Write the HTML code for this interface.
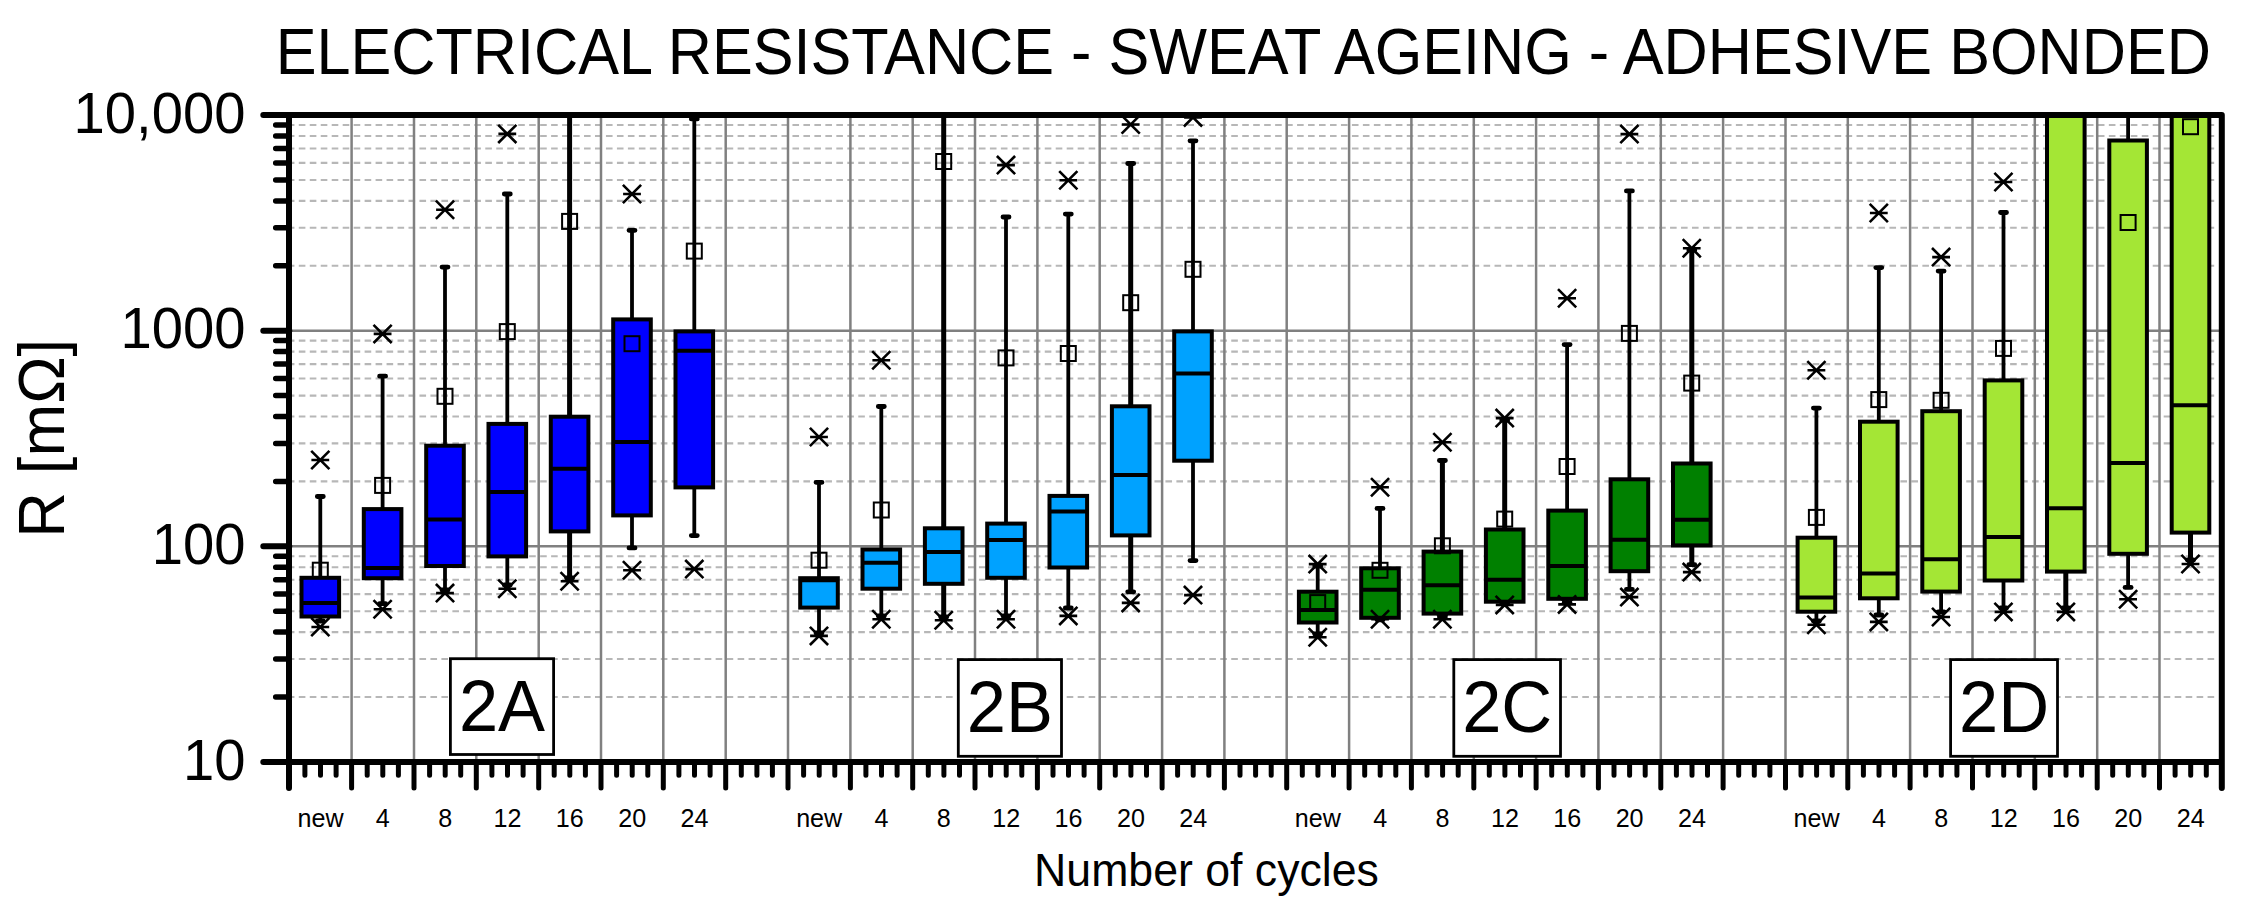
<!DOCTYPE html>
<html><head><meta charset="utf-8"><title>Electrical resistance - sweat ageing - adhesive bonded</title>
<style>html,body{margin:0;padding:0;background:#fff}svg{display:block}text{font-family:"Liberation Sans",Arial,sans-serif;fill:#000}</style></head><body>
<svg width="2244" height="910" viewBox="0 0 2244 910">
<rect width="2244" height="910" fill="#fff"/>
<defs><clipPath id="plot"><rect x="289.3" y="115.1" width="1932.5" height="646.8"/></clipPath></defs>
<g id="grid" fill="none">
<path d="M289.3 697H2216.8M289.3 659H2216.8M289.3 632.1H2216.8M289.3 611.2H2216.8M289.3 594.1H2216.8M289.3 579.7H2216.8M289.3 567.2H2216.8M289.3 556.2H2216.8M289.3 481.4H2216.8M289.3 443.4H2216.8M289.3 416.5H2216.8M289.3 395.6H2216.8M289.3 378.5H2216.8M289.3 364.1H2216.8M289.3 351.6H2216.8M289.3 340.6H2216.8M289.3 265.8H2216.8M289.3 227.8H2216.8M289.3 200.9H2216.8M289.3 180H2216.8M289.3 162.9H2216.8M289.3 148.5H2216.8M289.3 136H2216.8M289.3 125H2216.8" stroke="#b7b7b7" stroke-width="2.1" stroke-dasharray="6.6 4.37" stroke-dashoffset="1.47"/>
<path d="M289.3 546.3H2221.8M289.3 330.7H2221.8" stroke="#808080" stroke-width="2.4"/>
<path d="M351.6 115.1V761.9M414 115.1V761.9M476.3 115.1V761.9M538.7 115.1V761.9M601 115.1V761.9M663.3 115.1V761.9M725.7 115.1V761.9M788 115.1V761.9M850.4 115.1V761.9M912.7 115.1V761.9M975 115.1V761.9M1037.4 115.1V761.9M1099.7 115.1V761.9M1162.1 115.1V761.9M1224.4 115.1V761.9M1286.7 115.1V761.9M1349.1 115.1V761.9M1411.4 115.1V761.9M1473.8 115.1V761.9M1536.1 115.1V761.9M1598.4 115.1V761.9M1660.8 115.1V761.9M1723.1 115.1V761.9M1785.5 115.1V761.9M1847.8 115.1V761.9M1910.1 115.1V761.9M1972.5 115.1V761.9M2034.8 115.1V761.9M2097.2 115.1V761.9M2159.5 115.1V761.9" stroke="#808080" stroke-width="2.5"/>
</g>
<g id="data" clip-path="url(#plot)" stroke="#000" stroke-linecap="butt">
<g fill="#0000ff">
<path d="M320.3 496.5V577.8M320.3 616.5V621" stroke-width="3.8" fill="none"/>
<path d="M317.3 496.5H323.3M317.3 621H323.3" stroke-width="4.8" stroke-linecap="round" fill="none"/>
<rect x="301.5" y="577.8" width="37.6" height="38.7" stroke-width="4"/>
<path d="M301.5 602.9H339.1" stroke-width="4" fill="none"/>
<rect x="312.8" y="562.7" width="15" height="15" fill="none" stroke-width="2"/>
<path d="M311.2 450.9L329.4 469.1M311.2 469.1L329.4 450.9M311.4 460H329.2" stroke-width="2.6" fill="none"/>
<path d="M311.2 617.9L329.4 636.1M311.2 636.1L329.4 617.9M311.4 627H329.2" stroke-width="2.6" fill="none"/>
<path d="M382.6 376.2V509.1M382.6 578.2V603.6" stroke-width="3.8" fill="none"/>
<path d="M379.6 376.2H385.6M379.6 603.6H385.6" stroke-width="4.8" stroke-linecap="round" fill="none"/>
<rect x="363.8" y="509.1" width="37.6" height="69.1" stroke-width="4"/>
<path d="M363.8 568H401.4" stroke-width="4" fill="none"/>
<rect x="375.1" y="477.9" width="15" height="15" fill="none" stroke-width="2"/>
<path d="M373.5 324.8L391.7 343M373.5 343L391.7 324.8M373.7 333.9H391.5" stroke-width="2.6" fill="none"/>
<path d="M373.5 600.1L391.7 618.3M373.5 618.3L391.7 600.1M373.7 609.2H391.5" stroke-width="2.6" fill="none"/>
<path d="M445 267.1V445.7M445 566V590" stroke-width="3.8" fill="none"/>
<path d="M442 267.1H448M442 590H448" stroke-width="4.8" stroke-linecap="round" fill="none"/>
<rect x="426.2" y="445.7" width="37.6" height="120.3" stroke-width="4"/>
<path d="M426.2 519.6H463.8" stroke-width="4" fill="none"/>
<rect x="437.5" y="388.8" width="15" height="15" fill="none" stroke-width="2"/>
<path d="M435.9 200.7L454.1 218.9M435.9 218.9L454.1 200.7M436.1 209.8H453.9" stroke-width="2.6" fill="none"/>
<path d="M435.9 584L454.1 602.2M435.9 602.2L454.1 584M436.1 593.1H453.9" stroke-width="2.6" fill="none"/>
<path d="M507.3 194V423.9M507.3 556.4V585" stroke-width="3.8" fill="none"/>
<path d="M504.3 194H510.3M504.3 585H510.3" stroke-width="4.8" stroke-linecap="round" fill="none"/>
<rect x="488.5" y="423.9" width="37.6" height="132.5" stroke-width="4"/>
<path d="M488.5 492.1H526.1" stroke-width="4" fill="none"/>
<rect x="499.8" y="324.1" width="15" height="15" fill="none" stroke-width="2"/>
<path d="M498.2 124.8L516.4 143M498.2 143L516.4 124.8M498.4 133.9H516.2" stroke-width="2.6" fill="none"/>
<path d="M498.2 579.6L516.4 597.8M498.2 597.8L516.4 579.6M498.4 588.7H516.2" stroke-width="2.6" fill="none"/>
<path d="M569.6 95.1V416.7M569.6 531.4V578" stroke-width="5" fill="none"/>
<path d="M566.6 578H572.6" stroke-width="4.8" stroke-linecap="round" fill="none"/>
<rect x="550.8" y="416.7" width="37.6" height="114.7" stroke-width="4"/>
<path d="M550.8 468.7H588.4" stroke-width="4" fill="none"/>
<rect x="562.1" y="213.9" width="15" height="15" fill="none" stroke-width="2"/>
<path d="M560.5 572.2L578.7 590.4M560.5 590.4L578.7 572.2M560.7 581.3H578.5" stroke-width="2.6" fill="none"/>
<path d="M632 230.3V319.4M632 515.4V547.9" stroke-width="3.8" fill="none"/>
<path d="M629 230.3H635M629 547.9H635" stroke-width="4.8" stroke-linecap="round" fill="none"/>
<rect x="613.2" y="319.4" width="37.6" height="196" stroke-width="4"/>
<path d="M613.2 441.9H650.8" stroke-width="4" fill="none"/>
<rect x="624.5" y="336.2" width="15" height="15" fill="none" stroke-width="2"/>
<path d="M622.9 184.9L641.1 203.1M622.9 203.1L641.1 184.9M623.1 194H640.9" stroke-width="2.6" fill="none"/>
<path d="M622.9 561.1L641.1 579.3M622.9 579.3L641.1 561.1M623.1 570.2H640.9" stroke-width="2.6" fill="none"/>
<path d="M694.3 118.9V331.4M694.3 487.4V535.6" stroke-width="3.8" fill="none"/>
<path d="M691.3 118.9H697.3M691.3 535.6H697.3" stroke-width="4.8" stroke-linecap="round" fill="none"/>
<rect x="675.5" y="331.4" width="37.6" height="156" stroke-width="4"/>
<path d="M675.5 350.8H713.1" stroke-width="4" fill="none"/>
<rect x="686.8" y="243.6" width="15" height="15" fill="none" stroke-width="2"/>
<path d="M685.2 560L703.4 578.2M685.2 578.2L703.4 560M685.4 569.1H703.2" stroke-width="2.6" fill="none"/>
</g>
<g fill="#00a2ff">
<path d="M819 482.3V578.2M819 607.6V633" stroke-width="3.8" fill="none"/>
<path d="M816 482.3H822M816 633H822" stroke-width="4.8" stroke-linecap="round" fill="none"/>
<rect x="800.2" y="578.2" width="37.6" height="29.4" stroke-width="4"/>
<path d="M800.2 580.2H837.8" stroke-width="4" fill="none"/>
<rect x="811.5" y="552.7" width="15" height="15" fill="none" stroke-width="2"/>
<path d="M809.9 427.9L828.1 446.1M809.9 446.1L828.1 427.9M810.1 437H827.9" stroke-width="2.6" fill="none"/>
<path d="M809.9 626.8L828.1 645M809.9 645L828.1 626.8M810.1 635.9H827.9" stroke-width="2.6" fill="none"/>
<path d="M881.3 406.5V549.5M881.3 588.7V616" stroke-width="3.8" fill="none"/>
<path d="M878.3 406.5H884.3M878.3 616H884.3" stroke-width="4.8" stroke-linecap="round" fill="none"/>
<rect x="862.5" y="549.5" width="37.6" height="39.2" stroke-width="4"/>
<path d="M862.5 562.8H900.1" stroke-width="4" fill="none"/>
<rect x="873.8" y="502.5" width="15" height="15" fill="none" stroke-width="2"/>
<path d="M872.2 351.1L890.4 369.3M872.2 369.3L890.4 351.1M872.4 360.2H890.2" stroke-width="2.6" fill="none"/>
<path d="M872.2 610.1L890.4 628.3M872.2 628.3L890.4 610.1M872.4 619.2H890.2" stroke-width="2.6" fill="none"/>
<path d="M943.7 95.1V528.3M943.7 583.8V617" stroke-width="5" fill="none"/>
<path d="M940.7 617H946.7" stroke-width="4.8" stroke-linecap="round" fill="none"/>
<rect x="924.9" y="528.3" width="37.6" height="55.5" stroke-width="4"/>
<path d="M924.9 551.9H962.5" stroke-width="4" fill="none"/>
<rect x="936.2" y="154" width="15" height="15" fill="none" stroke-width="2"/>
<path d="M934.6 611.2L952.8 629.4M934.6 629.4L952.8 611.2M934.8 620.3H952.6" stroke-width="2.6" fill="none"/>
<path d="M1006 217V523.6M1006 577.8V615.9" stroke-width="3.8" fill="none"/>
<path d="M1003 217H1009M1003 615.9H1009" stroke-width="4.8" stroke-linecap="round" fill="none"/>
<rect x="987.2" y="523.6" width="37.6" height="54.2" stroke-width="4"/>
<path d="M987.2 540.1H1024.8" stroke-width="4" fill="none"/>
<rect x="998.5" y="350.4" width="15" height="15" fill="none" stroke-width="2"/>
<path d="M996.9 156L1015.1 174.2M996.9 174.2L1015.1 156M997.1 165.1H1014.9" stroke-width="2.6" fill="none"/>
<path d="M996.9 610.1L1015.1 628.3M996.9 628.3L1015.1 610.1M997.1 619.2H1014.9" stroke-width="2.6" fill="none"/>
<path d="M1068.3 214.1V495.9M1068.3 567.5V608" stroke-width="3.8" fill="none"/>
<path d="M1065.3 214.1H1071.3M1065.3 608H1071.3" stroke-width="4.8" stroke-linecap="round" fill="none"/>
<rect x="1049.5" y="495.9" width="37.6" height="71.6" stroke-width="4"/>
<path d="M1049.5 511.6H1087.1" stroke-width="4" fill="none"/>
<rect x="1060.8" y="346" width="15" height="15" fill="none" stroke-width="2"/>
<path d="M1059.2 171.1L1077.4 189.3M1059.2 189.3L1077.4 171.1M1059.5 180.2H1077.2" stroke-width="2.6" fill="none"/>
<path d="M1059.2 606.8L1077.4 625M1059.2 625L1077.4 606.8M1059.5 615.9H1077.2" stroke-width="2.6" fill="none"/>
<path d="M1130.7 163.5V406.3M1130.7 535.4V591.8" stroke-width="5" fill="none"/>
<path d="M1127.7 163.5H1133.7M1127.7 591.8H1133.7" stroke-width="4.8" stroke-linecap="round" fill="none"/>
<rect x="1111.9" y="406.3" width="37.6" height="129.1" stroke-width="4"/>
<path d="M1111.9 474.9H1149.5" stroke-width="4" fill="none"/>
<rect x="1123.2" y="295.2" width="15" height="15" fill="none" stroke-width="2"/>
<path d="M1121.6 115.4L1139.8 133.6M1121.6 133.6L1139.8 115.4M1121.8 124.5H1139.6" stroke-width="2.6" fill="none"/>
<path d="M1121.6 593.8L1139.8 612M1121.6 612L1139.8 593.8M1121.8 602.9H1139.6" stroke-width="2.6" fill="none"/>
<path d="M1193 140.8V331.4M1193 460.7V560.6" stroke-width="3.8" fill="none"/>
<path d="M1190 140.8H1196M1190 560.6H1196" stroke-width="4.8" stroke-linecap="round" fill="none"/>
<rect x="1174.2" y="331.4" width="37.6" height="129.3" stroke-width="4"/>
<path d="M1174.2 373.5H1211.8" stroke-width="4" fill="none"/>
<rect x="1185.5" y="261.8" width="15" height="15" fill="none" stroke-width="2"/>
<path d="M1183.9 108.3L1202.1 126.5M1183.9 126.5L1202.1 108.3M1184.1 117.4H1201.9" stroke-width="2.6" fill="none"/>
<path d="M1183.9 586L1202.1 604.2M1183.9 604.2L1202.1 586M1184.1 595.1H1201.9" stroke-width="2.6" fill="none"/>
</g>
<g fill="#008000">
<path d="M1317.7 566V591.7M1317.7 622.5V634" stroke-width="3.8" fill="none"/>
<path d="M1314.7 566H1320.7M1314.7 634H1320.7" stroke-width="4.8" stroke-linecap="round" fill="none"/>
<rect x="1298.9" y="591.7" width="37.6" height="30.8" stroke-width="4"/>
<path d="M1298.9 610H1336.5" stroke-width="4" fill="none"/>
<rect x="1310.2" y="595.1" width="15" height="15" fill="none" stroke-width="2"/>
<path d="M1308.6 555L1326.8 573.2M1308.6 573.2L1326.8 555M1308.8 564.1H1326.6" stroke-width="2.6" fill="none"/>
<path d="M1308.6 628.1L1326.8 646.3M1308.6 646.3L1326.8 628.1M1308.8 637.2H1326.6" stroke-width="2.6" fill="none"/>
<path d="M1380 508.4V568.3M1380 617.8V619.8" stroke-width="3.8" fill="none"/>
<path d="M1377 508.4H1383M1377 619.8H1383" stroke-width="4.8" stroke-linecap="round" fill="none"/>
<rect x="1361.2" y="568.3" width="37.6" height="49.5" stroke-width="4"/>
<path d="M1361.2 589.7H1398.8" stroke-width="4" fill="none"/>
<rect x="1372.5" y="562.8" width="15" height="15" fill="none" stroke-width="2"/>
<path d="M1371 478.1L1389.1 496.3M1371 496.3L1389.1 478.1M1371.2 487.2H1388.9" stroke-width="2.6" fill="none"/>
<path d="M1371 610.2L1389.1 628.4M1371 628.4L1389.1 610.2M1371.2 619.3H1388.9" stroke-width="2.6" fill="none"/>
<path d="M1442.4 460.5V551.6M1442.4 613.6V617" stroke-width="5" fill="none"/>
<path d="M1439.4 460.5H1445.4M1439.4 617H1445.4" stroke-width="4.8" stroke-linecap="round" fill="none"/>
<rect x="1423.6" y="551.6" width="37.6" height="62" stroke-width="4"/>
<path d="M1423.6 585.2H1461.2" stroke-width="4" fill="none"/>
<rect x="1434.9" y="538.3" width="15" height="15" fill="none" stroke-width="2"/>
<path d="M1433.3 433.1L1451.5 451.3M1433.3 451.3L1451.5 433.1M1433.5 442.2H1451.3" stroke-width="2.6" fill="none"/>
<path d="M1433.3 610.2L1451.5 628.4M1433.3 628.4L1451.5 610.2M1433.5 619.3H1451.3" stroke-width="2.6" fill="none"/>
<path d="M1504.7 420V529.5M1504.7 601.7V604" stroke-width="5" fill="none"/>
<path d="M1501.7 420H1507.7M1501.7 604H1507.7" stroke-width="4.8" stroke-linecap="round" fill="none"/>
<rect x="1485.9" y="529.5" width="37.6" height="72.2" stroke-width="4"/>
<path d="M1485.9 579.7H1523.5" stroke-width="4" fill="none"/>
<rect x="1497.2" y="511.6" width="15" height="15" fill="none" stroke-width="2"/>
<path d="M1495.6 409L1513.8 427.2M1495.6 427.2L1513.8 409M1495.8 418.1H1513.6" stroke-width="2.6" fill="none"/>
<path d="M1495.6 595.8L1513.8 614M1495.6 614L1513.8 595.8M1495.8 604.9H1513.6" stroke-width="2.6" fill="none"/>
<path d="M1567.1 344.6V510.6M1567.1 598.8V603" stroke-width="3.8" fill="none"/>
<path d="M1564.1 344.6H1570.1M1564.1 603H1570.1" stroke-width="4.8" stroke-linecap="round" fill="none"/>
<rect x="1548.3" y="510.6" width="37.6" height="88.2" stroke-width="4"/>
<path d="M1548.3 565.9H1585.9" stroke-width="4" fill="none"/>
<rect x="1559.6" y="459" width="15" height="15" fill="none" stroke-width="2"/>
<path d="M1558 289.1L1576.2 307.3M1558 307.3L1576.2 289.1M1558.2 298.2H1576" stroke-width="2.6" fill="none"/>
<path d="M1558 595.3L1576.2 613.5M1558 613.5L1576.2 595.3M1558.2 604.4H1576" stroke-width="2.6" fill="none"/>
<path d="M1629.4 190.9V479.3M1629.4 571.2V589.3" stroke-width="3.8" fill="none"/>
<path d="M1626.4 190.9H1632.4M1626.4 589.3H1632.4" stroke-width="4.8" stroke-linecap="round" fill="none"/>
<rect x="1610.6" y="479.3" width="37.6" height="91.9" stroke-width="4"/>
<path d="M1610.6 539.8H1648.2" stroke-width="4" fill="none"/>
<rect x="1621.9" y="325.9" width="15" height="15" fill="none" stroke-width="2"/>
<path d="M1620.3 125L1638.5 143.2M1620.3 143.2L1638.5 125M1620.5 134.1H1638.3" stroke-width="2.6" fill="none"/>
<path d="M1620.3 588L1638.5 606.2M1620.3 606.2L1638.5 588M1620.5 597.1H1638.3" stroke-width="2.6" fill="none"/>
<path d="M1691.8 250V463.5M1691.8 545.4V564.7" stroke-width="5" fill="none"/>
<path d="M1688.8 250H1694.8M1688.8 564.7H1694.8" stroke-width="4.8" stroke-linecap="round" fill="none"/>
<rect x="1673" y="463.5" width="37.6" height="81.9" stroke-width="4"/>
<path d="M1673 519.7H1710.5" stroke-width="4" fill="none"/>
<rect x="1684.2" y="375.6" width="15" height="15" fill="none" stroke-width="2"/>
<path d="M1682.7 239.1L1700.8 257.3M1682.7 257.3L1700.8 239.1M1682.9 248.2H1700.6" stroke-width="2.6" fill="none"/>
<path d="M1682.7 563L1700.8 581.2M1682.7 581.2L1700.8 563M1682.9 572.1H1700.6" stroke-width="2.6" fill="none"/>
</g>
<g fill="#a4e635">
<path d="M1816.4 408.1V537.7M1816.4 611.7V621" stroke-width="3.8" fill="none"/>
<path d="M1813.4 408.1H1819.4M1813.4 621H1819.4" stroke-width="4.8" stroke-linecap="round" fill="none"/>
<rect x="1797.6" y="537.7" width="37.6" height="74" stroke-width="4"/>
<path d="M1797.6 597.6H1835.2" stroke-width="4" fill="none"/>
<rect x="1808.9" y="509.9" width="15" height="15" fill="none" stroke-width="2"/>
<path d="M1807.3 361.1L1825.5 379.3M1807.3 379.3L1825.5 361.1M1807.5 370.2H1825.3" stroke-width="2.6" fill="none"/>
<path d="M1807.3 615.7L1825.5 633.9M1807.3 633.9L1825.5 615.7M1807.5 624.8H1825.3" stroke-width="2.6" fill="none"/>
<path d="M1878.8 267.6V421.7M1878.8 598.3V615" stroke-width="3.8" fill="none"/>
<path d="M1875.8 267.6H1881.8M1875.8 615H1881.8" stroke-width="4.8" stroke-linecap="round" fill="none"/>
<rect x="1860" y="421.7" width="37.6" height="176.6" stroke-width="4"/>
<path d="M1860 573.6H1897.6" stroke-width="4" fill="none"/>
<rect x="1871.3" y="392.1" width="15" height="15" fill="none" stroke-width="2"/>
<path d="M1869.7 203.9L1887.9 222.1M1869.7 222.1L1887.9 203.9M1869.9 213H1887.7" stroke-width="2.6" fill="none"/>
<path d="M1869.7 612.8L1887.9 631M1869.7 631L1887.9 612.8M1869.9 621.9H1887.7" stroke-width="2.6" fill="none"/>
<path d="M1941.1 271.1V411.2M1941.1 591.6V612" stroke-width="3.8" fill="none"/>
<path d="M1938.1 271.1H1944.1M1938.1 612H1944.1" stroke-width="4.8" stroke-linecap="round" fill="none"/>
<rect x="1922.3" y="411.2" width="37.6" height="180.4" stroke-width="4"/>
<path d="M1922.3 559.3H1959.9" stroke-width="4" fill="none"/>
<rect x="1933.6" y="392.8" width="15" height="15" fill="none" stroke-width="2"/>
<path d="M1932 248L1950.2 266.2M1932 266.2L1950.2 248M1932.2 257.1H1950" stroke-width="2.6" fill="none"/>
<path d="M1932 607.9L1950.2 626.1M1932 626.1L1950.2 607.9M1932.2 617H1950" stroke-width="2.6" fill="none"/>
<path d="M2003.5 212.5V380.4M2003.5 580.5V608" stroke-width="3.8" fill="none"/>
<path d="M2000.5 212.5H2006.5M2000.5 608H2006.5" stroke-width="4.8" stroke-linecap="round" fill="none"/>
<rect x="1984.7" y="380.4" width="37.6" height="200.1" stroke-width="4"/>
<path d="M1984.7 537H2022.2" stroke-width="4" fill="none"/>
<rect x="1996" y="340.9" width="15" height="15" fill="none" stroke-width="2"/>
<path d="M1994.4 172.9L2012.5 191.1M1994.4 191.1L2012.5 172.9M1994.6 182H2012.3" stroke-width="2.6" fill="none"/>
<path d="M1994.4 602.8L2012.5 621M1994.4 621L2012.5 602.8M1994.6 611.9H2012.3" stroke-width="2.6" fill="none"/>
<path d="M2065.8 95.1V95.1M2065.8 571.6V608" stroke-width="5" fill="none"/>
<path d="M2062.8 608H2068.8" stroke-width="4.8" stroke-linecap="round" fill="none"/>
<rect x="2047" y="95.1" width="37.6" height="476.5" stroke-width="4"/>
<path d="M2047 508.3H2084.6" stroke-width="4" fill="none"/>
<path d="M2056.7 602.8L2074.9 621M2056.7 621L2074.9 602.8M2056.9 611.9H2074.7" stroke-width="2.6" fill="none"/>
<path d="M2128.1 95.1V140.5M2128.1 553.8V587.4" stroke-width="3.8" fill="none"/>
<path d="M2125.1 587.4H2131.1" stroke-width="4.8" stroke-linecap="round" fill="none"/>
<rect x="2109.3" y="140.5" width="37.6" height="413.3" stroke-width="4"/>
<path d="M2109.3 463.1H2146.9" stroke-width="4" fill="none"/>
<rect x="2120.6" y="215" width="15" height="15" fill="none" stroke-width="2"/>
<path d="M2119 590.1L2137.2 608.3M2119 608.3L2137.2 590.1M2119.2 599.2H2137" stroke-width="2.6" fill="none"/>
<path d="M2190.5 95.1V95.1M2190.5 532.6V560" stroke-width="5" fill="none"/>
<path d="M2187.5 560H2193.5" stroke-width="4.8" stroke-linecap="round" fill="none"/>
<rect x="2171.7" y="95.1" width="37.6" height="437.5" stroke-width="4"/>
<path d="M2171.7 405.2H2209.3" stroke-width="4" fill="none"/>
<rect x="2183" y="119.2" width="15" height="15" fill="none" stroke-width="2"/>
<path d="M2181.4 554.9L2199.6 573.1M2181.4 573.1L2199.6 554.9M2181.6 564H2199.4" stroke-width="2.6" fill="none"/>
</g>
</g>
<g id="labels">
<rect x="450.4" y="658.7" width="103.2" height="95.8" fill="#fff" stroke="#000" stroke-width="2.8"/>
<text transform="translate(458.93 730.7) scale(0.9742 1)" font-size="72.29">2A</text>
<rect x="958.3" y="659.6" width="103.2" height="96.7" fill="#fff" stroke="#000" stroke-width="2.8"/>
<text transform="translate(966.83 731.8) scale(0.9742 1)" font-size="72.29">2B</text>
<rect x="1453.8" y="659.6" width="106.7" height="96.7" fill="#fff" stroke="#000" stroke-width="2.8"/>
<text transform="translate(1462.13 731.8) scale(0.9742 1)" font-size="72.29">2C</text>
<rect x="1950.6" y="659.6" width="106.9" height="96.7" fill="#fff" stroke="#000" stroke-width="2.8"/>
<text transform="translate(1959.03 731.8) scale(0.9742 1)" font-size="72.29">2D</text>
</g>
<g id="axes" stroke="#000" fill="none" stroke-linecap="round">
<path d="M289 115.1V787.9M2221.8 115.1V787.9M263.3 115.1H2221.8M263.3 761.9H2221.8" stroke-width="6" stroke-linejoin="round"/>
<path d="M263.3 546.3H289.3M263.3 330.7H289.3" stroke-width="6"/>
<path d="M275.7 697H289.3M275.7 659H289.3M275.7 632.1H289.3M275.7 611.2H289.3M275.7 594.1H289.3M275.7 579.7H289.3M275.7 567.2H289.3M275.7 556.2H289.3M275.7 481.4H289.3M275.7 443.4H289.3M275.7 416.5H289.3M275.7 395.6H289.3M275.7 378.5H289.3M275.7 364.1H289.3M275.7 351.6H289.3M275.7 340.6H289.3M275.7 265.8H289.3M275.7 227.8H289.3M275.7 200.9H289.3M275.7 180H289.3M275.7 162.9H289.3M275.7 148.5H289.3M275.7 136H289.3M275.7 125H289.3" stroke-width="5.5"/>
<path d="M351.6 761.9V787.9M414 761.9V787.9M476.3 761.9V787.9M538.7 761.9V787.9M601 761.9V787.9M663.3 761.9V787.9M725.7 761.9V787.9M788 761.9V787.9M850.4 761.9V787.9M912.7 761.9V787.9M975 761.9V787.9M1037.4 761.9V787.9M1099.7 761.9V787.9M1162.1 761.9V787.9M1224.4 761.9V787.9M1286.7 761.9V787.9M1349.1 761.9V787.9M1411.4 761.9V787.9M1473.8 761.9V787.9M1536.1 761.9V787.9M1598.4 761.9V787.9M1660.8 761.9V787.9M1723.1 761.9V787.9M1785.5 761.9V787.9M1847.8 761.9V787.9M1910.1 761.9V787.9M1972.5 761.9V787.9M2034.8 761.9V787.9M2097.2 761.9V787.9M2159.5 761.9V787.9" stroke-width="5"/>
<path d="M304.9 761.9V775.3M320.5 761.9V775.3M336.1 761.9V775.3M367.2 761.9V775.3M382.8 761.9V775.3M398.4 761.9V775.3M429.6 761.9V775.3M445.2 761.9V775.3M460.7 761.9V775.3M491.9 761.9V775.3M507.5 761.9V775.3M523.1 761.9V775.3M554.2 761.9V775.3M569.8 761.9V775.3M585.4 761.9V775.3M616.6 761.9V775.3M632.2 761.9V775.3M647.8 761.9V775.3M678.9 761.9V775.3M694.5 761.9V775.3M710.1 761.9V775.3M741.3 761.9V775.3M756.9 761.9V775.3M772.4 761.9V775.3M803.6 761.9V775.3M819.2 761.9V775.3M834.8 761.9V775.3M865.9 761.9V775.3M881.5 761.9V775.3M897.1 761.9V775.3M928.3 761.9V775.3M943.9 761.9V775.3M959.5 761.9V775.3M990.6 761.9V775.3M1006.2 761.9V775.3M1021.8 761.9V775.3M1053 761.9V775.3M1068.5 761.9V775.3M1084.1 761.9V775.3M1115.3 761.9V775.3M1130.9 761.9V775.3M1146.5 761.9V775.3M1177.6 761.9V775.3M1193.2 761.9V775.3M1208.8 761.9V775.3M1240 761.9V775.3M1255.6 761.9V775.3M1271.2 761.9V775.3M1302.3 761.9V775.3M1317.9 761.9V775.3M1333.5 761.9V775.3M1364.7 761.9V775.3M1380.2 761.9V775.3M1395.8 761.9V775.3M1427 761.9V775.3M1442.6 761.9V775.3M1458.2 761.9V775.3M1489.3 761.9V775.3M1504.9 761.9V775.3M1520.5 761.9V775.3M1551.7 761.9V775.3M1567.3 761.9V775.3M1582.9 761.9V775.3M1614 761.9V775.3M1629.6 761.9V775.3M1645.2 761.9V775.3M1676.4 761.9V775.3M1692 761.9V775.3M1707.5 761.9V775.3M1738.7 761.9V775.3M1754.3 761.9V775.3M1769.9 761.9V775.3M1801 761.9V775.3M1816.6 761.9V775.3M1832.2 761.9V775.3M1863.4 761.9V775.3M1879 761.9V775.3M1894.6 761.9V775.3M1925.7 761.9V775.3M1941.3 761.9V775.3M1956.9 761.9V775.3M1988.1 761.9V775.3M2003.7 761.9V775.3M2019.2 761.9V775.3M2050.4 761.9V775.3M2066 761.9V775.3M2081.6 761.9V775.3M2112.7 761.9V775.3M2128.3 761.9V775.3M2143.9 761.9V775.3M2175.1 761.9V775.3M2190.7 761.9V775.3M2206.3 761.9V775.3" stroke-width="5"/>
</g>
<g id="text">
<text transform="translate(275.65 74.10) scale(0.9452 1)" font-size="64.73" text-anchor="start">ELECTRICAL RESISTANCE - SWEAT AGEING - ADHESIVE BONDED</text>
<text transform="translate(73.48 133.00) scale(0.9665 1)" font-size="58.18" text-anchor="start">10,000</text>
<text transform="translate(120.44 347.90) scale(0.9665 1)" font-size="58.18" text-anchor="start">1000</text>
<text transform="translate(151.64 564.00) scale(0.9665 1)" font-size="58.18" text-anchor="start">100</text>
<text transform="translate(182.99 779.90) scale(0.9665 1)" font-size="58.18" text-anchor="start">10</text>
<text transform="translate(64 537.63) rotate(-90) scale(0.9644 1)" font-size="65.75">R [mΩ]</text>
<text transform="translate(320.47 826.90) scale(0.9610 1)" font-size="26.18" text-anchor="middle">new</text>
<text transform="translate(382.81 826.90) scale(0.9610 1)" font-size="26.18" text-anchor="middle">4</text>
<text transform="translate(445.15 826.90) scale(0.9610 1)" font-size="26.18" text-anchor="middle">8</text>
<text transform="translate(507.49 826.90) scale(0.9610 1)" font-size="26.18" text-anchor="middle">12</text>
<text transform="translate(569.83 826.90) scale(0.9610 1)" font-size="26.18" text-anchor="middle">16</text>
<text transform="translate(632.17 826.90) scale(0.9610 1)" font-size="26.18" text-anchor="middle">20</text>
<text transform="translate(694.51 826.90) scale(0.9610 1)" font-size="26.18" text-anchor="middle">24</text>
<text transform="translate(819.19 826.90) scale(0.9610 1)" font-size="26.18" text-anchor="middle">new</text>
<text transform="translate(881.53 826.90) scale(0.9610 1)" font-size="26.18" text-anchor="middle">4</text>
<text transform="translate(943.87 826.90) scale(0.9610 1)" font-size="26.18" text-anchor="middle">8</text>
<text transform="translate(1006.21 826.90) scale(0.9610 1)" font-size="26.18" text-anchor="middle">12</text>
<text transform="translate(1068.55 826.90) scale(0.9610 1)" font-size="26.18" text-anchor="middle">16</text>
<text transform="translate(1130.89 826.90) scale(0.9610 1)" font-size="26.18" text-anchor="middle">20</text>
<text transform="translate(1193.23 826.90) scale(0.9610 1)" font-size="26.18" text-anchor="middle">24</text>
<text transform="translate(1317.91 826.90) scale(0.9610 1)" font-size="26.18" text-anchor="middle">new</text>
<text transform="translate(1380.25 826.90) scale(0.9610 1)" font-size="26.18" text-anchor="middle">4</text>
<text transform="translate(1442.59 826.90) scale(0.9610 1)" font-size="26.18" text-anchor="middle">8</text>
<text transform="translate(1504.93 826.90) scale(0.9610 1)" font-size="26.18" text-anchor="middle">12</text>
<text transform="translate(1567.27 826.90) scale(0.9610 1)" font-size="26.18" text-anchor="middle">16</text>
<text transform="translate(1629.61 826.90) scale(0.9610 1)" font-size="26.18" text-anchor="middle">20</text>
<text transform="translate(1691.95 826.90) scale(0.9610 1)" font-size="26.18" text-anchor="middle">24</text>
<text transform="translate(1816.63 826.90) scale(0.9610 1)" font-size="26.18" text-anchor="middle">new</text>
<text transform="translate(1878.97 826.90) scale(0.9610 1)" font-size="26.18" text-anchor="middle">4</text>
<text transform="translate(1941.31 826.90) scale(0.9610 1)" font-size="26.18" text-anchor="middle">8</text>
<text transform="translate(2003.65 826.90) scale(0.9610 1)" font-size="26.18" text-anchor="middle">12</text>
<text transform="translate(2065.99 826.90) scale(0.9610 1)" font-size="26.18" text-anchor="middle">16</text>
<text transform="translate(2128.33 826.90) scale(0.9610 1)" font-size="26.18" text-anchor="middle">20</text>
<text transform="translate(2190.67 826.90) scale(0.9610 1)" font-size="26.18" text-anchor="middle">24</text>
<text transform="translate(1034.12 885.70) scale(0.9802 1)" font-size="45.53" text-anchor="start">Number of cycles</text>
</g>
</svg></body></html>
